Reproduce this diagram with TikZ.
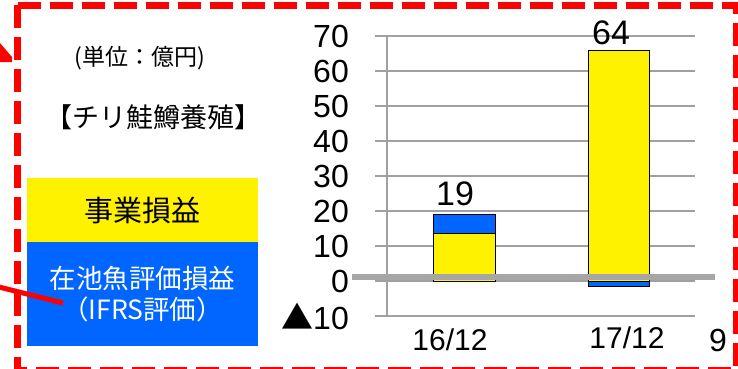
\documentclass[tikz,border=0pt]{standalone}
\usepackage{fontspec}
\setmainfont{Liberation Sans}
\newfontfamily\cjk{Noto Sans CJK JP}
\definecolor{frameRed}{RGB}{255,0,0}
\definecolor{ifrsBlue}{RGB}{0,102,255}
\definecolor{gridGray}{RGB}{160,160,160}
\definecolor{zeroGray}{RGB}{166,166,166}
\newcommand\colorFrame{frameRed}
\newcommand\colorProfit{yellow}
\newcommand\colorIFRS{ifrsBlue}
\newcommand\colorGrid{gridGray}
\newcommand\colorZeroline{zeroGray}
\newcommand\chartZero{87}
\newcommand\chartUnit{3.5}
\newcommand\gridLeft{375}
\newcommand\gridRight{695}
\newcommand\tickFont{\fontsize{32}{36}\selectfont}
\newcommand\drawGridlines{
	\foreach \v in {-10,0,...,70}{
		\draw[color=\colorGrid, line width=1.5pt] (\gridLeft,\chartZero+\v*\chartUnit) to (\gridRight,\chartZero+\v*\chartUnit);
	}
}

\begin{document}
\begin{tikzpicture}[x=1pt, y=1pt]
		\useasboundingbox (0,0) rectangle (738,368);
		\clip (0,0) rectangle (738,368);
		
		\drawGridlines
		\draw[color=\colorGrid, line width=1.5pt] (387,\chartZero-10*\chartUnit) to (387,\chartZero+70*\chartUnit);
		
		% tick labels
		\foreach \v in {0,10,...,70}{
			\node[anchor=east, inner sep=0pt, font=\tickFont] (tick\v) at (349,\chartZero+\v*\chartUnit) {\v};
		}
		\node[anchor=east, inner sep=0pt, font=\tickFont] (tickneg) at (349,\chartZero-10*\chartUnit) {{\cjk ▲}10};
		
		% bars
		\draw[fill=\colorProfit] (433.3,\chartZero) rectangle (495.3,\chartZero+13.6*\chartUnit);
		\draw[fill=\colorIFRS] (433.3,\chartZero+13.6*\chartUnit) rectangle (495.3,\chartZero+19*\chartUnit);
		\draw[fill=\colorProfit] (587.7,\chartZero) rectangle (649.3,\chartZero+66*\chartUnit);
		\draw[fill=\colorIFRS] (587.7,\chartZero-1.4*\chartUnit) rectangle (649.3,\chartZero);
		
		\draw[color=\colorZeroline, line width=6pt] (352,91.3) to (715,91.3);
		
		\node[font=\fontsize{34}{38}\selectfont] (sum1) at (455,174) {19};
		\node[font=\fontsize{34}{38}\selectfont] (sum2) at (611,335) {64};
		\node[font=\fontsize{30}{34}\selectfont] (year1) at (450,28) {16/12};
		\node[font=\fontsize{30}{34}\selectfont] (year2) at (627,30) {17/12};
		\node[font=\fontsize{32}{36}\selectfont] (page) at (718,28) {9};
		
		% legend
		\node[fill=\colorProfit, minimum width=231pt, minimum height=64pt, inner sep=0pt, font=\cjk\fontsize{29}{32}\selectfont] (profit) at (142.5,158) {事業損益};
		\node[fill=\colorIFRS, minimum width=231pt, minimum height=104pt, inner sep=0pt, text=white, align=center, font=\cjk\fontsize{26.5}{31}\selectfont] (ifrs) at (142.5,74) {在池魚評価損益\\（IFRS評価）};
		\node[font=\cjk\fontsize{23}{26}\selectfont] (unit) at (140,310) {(単位：億円)};
		\node[font=\cjk\fontsize{27}{30}\selectfont] (title) at (153,251) {【チリ鮭鱒養殖】};
		
		% frame and pieces from outside
		\draw[color=\colorFrame, line width=7pt, dash pattern=on 23pt off 9pt] (17,363) rectangle (736,-2);
		\coordinate (pointerA) at (-5,82);
		\coordinate (pointerB) at (63,65);
		\draw[color=\colorFrame, line width=5pt] (pointerA) to (pointerB);
		\fill[color=\colorFrame] (0,325) to (12,311) to (12,306) to (0,306) to cycle;
	\end{tikzpicture}
\end{document}
